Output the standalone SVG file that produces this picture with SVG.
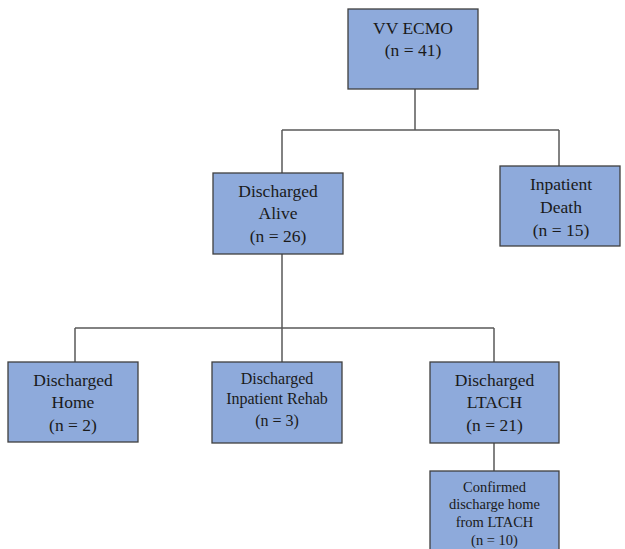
<svg xmlns="http://www.w3.org/2000/svg" width="625" height="549" viewBox="0 0 625 549">
<style>
.box{fill:#8eaadb;stroke:#3f3f3f;stroke-width:1.3}
.t{font-family:"Liberation Serif","Times New Roman",serif;font-size:17.5px;fill:#1a1a1a;text-anchor:middle}
.s{font-size:16px}
.xs{font-size:14.5px}
.c{fill:none;stroke:#595959;stroke-width:1.5}
</style>
<rect width="625" height="549" fill="#ffffff"/>
<g id="connectors">
<path class="c" d="M415,89 V130 M282,130 H559 M282,130 V173 M559,130 V166"/>
<path class="c" d="M282,254 V328 M75,328 H494 M75,328 V362 M282,328 V362 M494,328 V362"/>
<path class="c" d="M494,443 V471"/>
</g>
<g id="vv-ecmo">
<rect class="box" x="348" y="9" width="130" height="80"/>
<text class="t" x="413" y="34">VV ECMO</text>
<text class="t" x="413" y="56">(n = 41)</text>
</g>
<g id="discharged-alive">
<rect class="box" x="213" y="173" width="130" height="81"/>
<text class="t" x="278" y="197">Discharged</text>
<text class="t" x="278" y="219">Alive</text>
<text class="t" x="278" y="242">(n = 26)</text>
</g>
<g id="inpatient-death">
<rect class="box" x="500" y="166" width="120" height="80"/>
<text class="t" x="561" y="190">Inpatient</text>
<text class="t" x="561" y="213">Death</text>
<text class="t" x="561" y="236">(n = 15)</text>
</g>
<g id="discharged-home">
<rect class="box" x="8" y="362" width="130" height="80"/>
<text class="t" x="73" y="386">Discharged</text>
<text class="t" x="73" y="408">Home</text>
<text class="t" x="73" y="431">(n = 2)</text>
</g>
<g id="discharged-rehab">
<rect class="box" x="212" y="362" width="130" height="81"/>
<text class="t s" x="277" y="384">Discharged</text>
<text class="t s" x="277" y="404">Inpatient Rehab</text>
<text class="t s" x="277" y="426">(n = 3)</text>
</g>
<g id="discharged-ltach">
<rect class="box" x="430" y="362" width="129" height="81"/>
<text class="t" x="494.5" y="386">Discharged</text>
<text class="t" x="494.5" y="408">LTACH</text>
<text class="t" x="494.5" y="431">(n = 21)</text>
</g>
<g id="confirmed-home">
<rect class="box" x="430" y="471" width="129" height="90"/>
<text class="t xs" x="494.5" y="492">Confirmed</text>
<text class="t xs" x="494.5" y="509">discharge home</text>
<text class="t xs" x="494.5" y="527">from LTACH</text>
<text class="t xs" x="494.5" y="545">(n = 10)</text>
</g>
</svg>
